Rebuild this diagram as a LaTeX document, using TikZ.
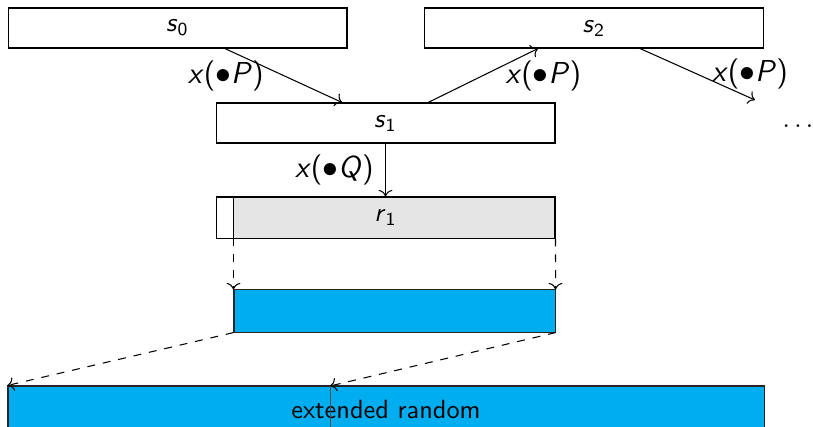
\documentclass[tikz,border=0pt]{standalone}
\usepackage{xcolor}
\usepackage{tikz}
\usetikzlibrary{arrows.meta,positioning,calc}
\definecolor{randblue}{RGB}{0,174,239}

\begin{document}
\begin{tikzpicture}[x=0.38pt, y=-0.38pt, font=\sffamily,
  box/.style={draw=black, fill=white, minimum width=128.8pt,
    minimum height=15.2pt, inner sep=0pt},
  greybox/.style={box, minimum height=15.6pt,
    path picture={\fill[black!10] ([xshift=6.84pt]path picture bounding box.north west)
      rectangle (path picture bounding box.south east);}},
  bluebox/.style={draw=black!85, fill=randblue, minimum width=122pt,
    minimum height=16pt, inner sep=0pt},
  extbox/.style={draw=black!85, fill=randblue, minimum width=287.3pt,
    minimum height=17.5pt, inner sep=0pt},
  lbl/.style={font=\sffamily\fontsize{11.5}{13}\selectfont},
  flow/.style={->, draw=black},
  dflow/.style={->, dashed, draw=black}
]
\useasboundingbox (0,0) rectangle (813,426);
\node[box] (s0) at (177.5,28) {\textit{s}\textsubscript{0}};
\node[box] (s2) at (594,28) {\textit{s}\textsubscript{2}};
\node[box] (s1) at (385.5,123) {\textit{s}\textsubscript{1}};
\node[greybox] (r1) at (385.5,217.5) {\textit{r}\textsubscript{1}};
\node[bluebox] (blue) at (394.5,311) {};
\node[extbox] (ext) at (386,409) {extended random};
\node (dots) at (798,126) {$\ldots$};
\coordinate (next) at (755,100);
\coordinate (land) at (330,386);

\draw[flow] ([xshift=18pt]s0.south) -- node[lbl, left=4pt]{\textit{x}($\bullet$\textit{P})} ([xshift=-16.5pt]s1.north);
\draw[flow] ([xshift=16.2pt]s1.north) -- node[lbl, right=5pt]{\textit{x}($\bullet$\textit{P})} ([xshift=-21.3pt]s2.south);
\draw[flow] ([xshift=17.5pt]s2.south) -- node[lbl, right=2pt]{\textit{x}($\bullet$\textit{P})} (next);
\draw[flow] (s1.south) -- node[lbl, left=1pt]{\textit{x}($\bullet$\textit{Q})} (r1.north);

\draw (r1.north -| blue.west) -- (r1.south -| blue.west);
\draw[dflow] (r1.south -| blue.west) -- (blue.north west);
\draw[dflow] (r1.south east) -- (blue.north east);

\draw[dflow] (blue.south west) -- (ext.north west);
\draw[dflow] (blue.south east) -- (land);
\draw[very thin, draw=black!70] (land) -- (land |- ext.south);
\end{tikzpicture}
\end{document}
